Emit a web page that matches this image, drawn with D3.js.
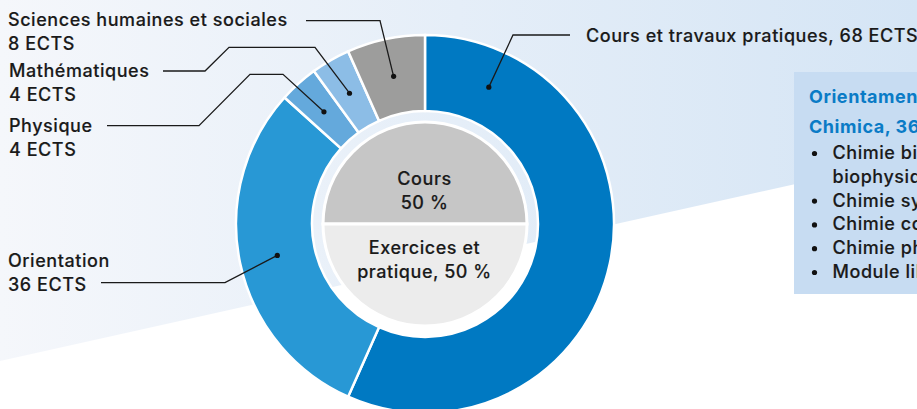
<!DOCTYPE html>
<html><head><meta charset="utf-8">
<script src="https://cdn.jsdelivr.net/npm/d3@7"></script>
<style>
html,body{margin:0;padding:0;background:#fff;overflow:hidden;}
svg{display:block;font-family:Inter,"Noto Sans",sans-serif;}
text.t{stroke:#1a1a1a;stroke-width:0.15px;paint-order:stroke;}
</style></head><body>
<svg id="chart" width="917" height="409"></svg>
<script>
// ---- data ----
const categories = ["Cours et travaux pratiques", "Orientation", "Physique", "Mathématiques", "Sciences humaines et sociales"];
const ects = [68, 36, 4, 4, 8];
const sliceColors = ["#0079c2", "#2898d5", "#64a9dc", "#8cbde6", "#9d9d9c"];
const innerCategories = ["Cours", "Exercices et pratique"];
const innerShares = [50, 50];
const innerLabelLines = [["Cours", "50 %"], ["Exercices et", "pratique, 50 %"]];
const innerColors = ["#c6c6c6", "#ececec"];
const boxTitle = ["Orientamento", "Chimica, 36 ECTS"];
const boxItems = [["Chimie biologique et", "biophysique"], ["Chimie synthétique"], ["Chimie computationnelle"], ["Chimie physique"], ["Module libre"]];

// ---- layout ----
const W = 917, H = 409;
const cx = 425, cy = 224, R = 189, r = 113, rPie = 102;
const FS = 18, LS = 0.55, FW = 500;
const svg = d3.select("#chart");
const defs = svg.append("defs");
const grad = defs.append("linearGradient").attr("id", "bg").attr("x1", 0).attr("x2", 1).attr("y1", 0).attr("y2", 0);
grad.append("stop").attr("offset", "0%").attr("stop-color", "#f5f7fb");
grad.append("stop").attr("offset", "100%").attr("stop-color", "#d5e5f5");
svg.append("rect").attr("width", W).attr("height", H).attr("fill", "#fff");
svg.append("path").attr("d", "M0,0H917V157L0,361Z").attr("fill", "url(#bg)");

// outer donut
const pie = d3.pie().sort(null).value(d => d);
const arcs = pie(ects);
const arc = d3.arc().innerRadius(r).outerRadius(R);
const mid = (r + R) / 2;
const g = svg.append("g").attr("transform", `translate(${cx},${cy})`);
g.selectAll("path.slice").data(arcs).join("path").attr("class", "slice")
  .attr("d", arc).attr("fill", (d, i) => sliceColors[i])
  .attr("stroke", "#fff").attr("stroke-width", 2.5);

// inner pie
const pie2 = d3.pie().sort(null).value(d => d).startAngle(-Math.PI / 2).endAngle(Math.PI * 1.5);
const arc2 = d3.arc().innerRadius(0).outerRadius(rPie);
g.selectAll("path.inner").data(pie2(innerShares)).join("path").attr("class", "inner")
  .attr("d", arc2).attr("fill", (d, i) => innerColors[i])
  .attr("stroke", "#fff").attr("stroke-width", 3);

const innerText = [[185, 209], [254, 278]];
innerLabelLines.forEach((lines, i) => {
  lines.forEach((t, j) => {
    svg.append("text").attr("class", "t").attr("x", cx - 0.5).attr("y", innerText[i][j]).attr("text-anchor", "middle")
      .attr("font-size", FS).attr("letter-spacing", LS).attr("font-weight", FW).attr("fill", "#1a1a1a").text(t);
  });
});

// labels with leader lines
const labelCfg = [
  { x: 586, ys: [41.5], oneLine: true, pts: [[570, 35], [513, 35]], angle: 25 },
  { x: 8, ys: [266.5, 290.5], pts: [[101, 282.7], [225, 282.7]] },
  { x: 9, ys: [131.5, 155.5], pts: [[107, 125.7], [199, 125.7], [250, 74.3], [283, 74.3]] },
  { x: 9, ys: [76.5, 100.5], pts: [[163, 71], [205, 71], [229, 47.3], [315, 47.3]] },
  { x: 8, ys: [26, 49.5], pts: [[306, 20.7], [380, 20.7]] }
];
arcs.forEach((a, i) => {
  const cfg = labelCfg[i];
  let dx, dy;
  if (cfg.angle !== undefined) {
    const t = cfg.angle * Math.PI / 180;
    dx = mid * Math.sin(t); dy = -mid * Math.cos(t);
  } else {
    [dx, dy] = d3.arc().innerRadius(mid).outerRadius(mid).centroid(a);
  }
  const dot = [cx + dx, cy + dy];
  const pts = cfg.pts.concat([dot]);
  svg.append("path").attr("d", d3.line()(pts)).attr("fill", "none")
    .attr("stroke", "#1a1a1a").attr("stroke-width", 1.3);
  svg.append("circle").attr("cx", dot[0]).attr("cy", dot[1]).attr("r", 2.6).attr("fill", "#111");
  const lines = cfg.oneLine ? [`${categories[i]}, ${ects[i]} ECTS`] : [categories[i], `${ects[i]} ECTS`];
  lines.forEach((t, j) => {
    svg.append("text").attr("class", "t").attr("x", cfg.x).attr("y", cfg.ys[j]).attr("font-size", FS).attr("letter-spacing", LS)
      .attr("font-weight", FW).attr("fill", "#1a1a1a").text(t);
  });
});

// right info box
defs.append("clipPath").attr("id", "clipR").append("rect").attr("x", 0).attr("y", 0).attr("width", W).attr("height", H);
const box = svg.append("g").attr("clip-path", "url(#clipR)");
box.append("rect").attr("x", 794).attr("y", 72).attr("width", 240).attr("height", 222).attr("fill", "#c7dcf2");
boxTitle.forEach((t, j) => {
  box.append("text").attr("x", 809).attr("y", 103 + j * 30).attr("font-size", FS).attr("letter-spacing", LS)
    .attr("font-weight", 700).attr("fill", "#0a7bc6").text(t);
});
let yy = 159;
boxItems.forEach(item => {
  box.append("circle").attr("cx", 814.5).attr("cy", yy - 5.5).attr("r", 2.6).attr("fill", "#111");
  item.forEach((t, j) => {
    box.append("text").attr("class", "t").attr("x", 832.5).attr("y", yy).attr("font-size", FS).attr("letter-spacing", LS)
      .attr("font-weight", FW).attr("fill", "#1a1a1a").text(t);
    yy += 23.8;
  });
});
</script>
</body></html>
